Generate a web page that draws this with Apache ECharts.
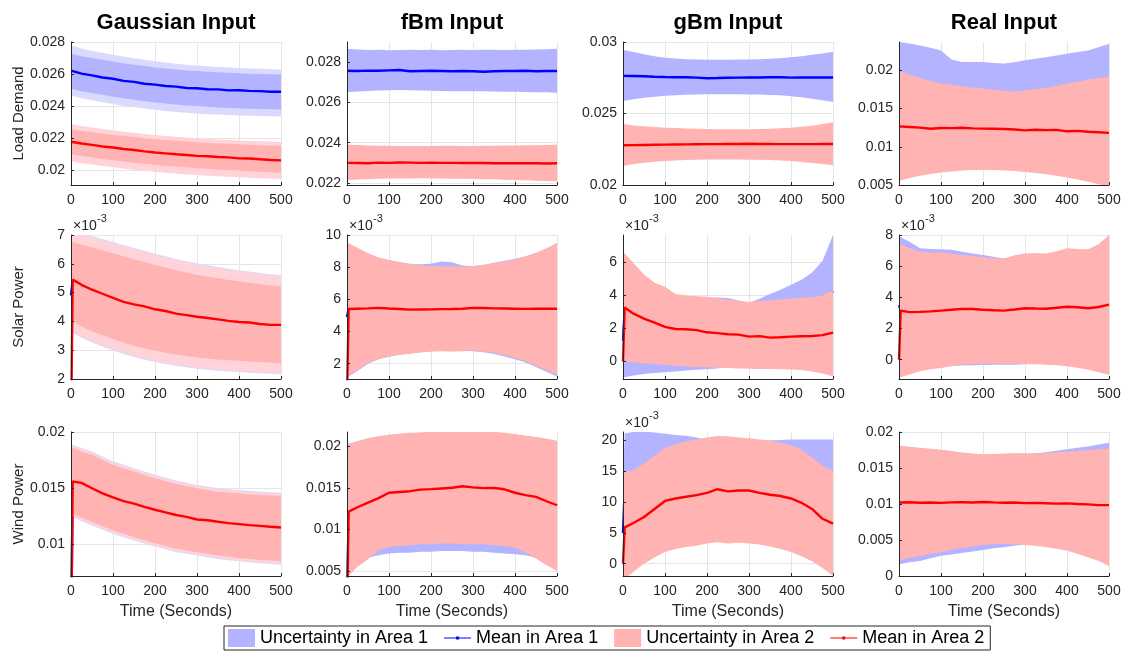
<!DOCTYPE html>
<html><head><meta charset="utf-8">
<script src="https://cdn.jsdelivr.net/npm/echarts@6/dist/echarts.min.js"></script>
<style>html,body{margin:0;padding:0;background:#fff}#c{width:1126px;height:655px}</style>
</head><body><div id="c"></div>
<script>
// ---------------- DATA ----------------
// time points (seconds)
const T = [0,4,25,50,75,100,125,150,175,200,225,250,275,300,325,350,375,400,425,450,475,500];
const xTicks = [0,100,200,300,400,500];
const colTitles = ['Gaussian Input','fBm Input','gBm Input','Real Input'];
const rowTitles = ['Load Demand','Solar Power','Wind Power'];
const xName = 'Time (Seconds)';
const legendNames = ['Uncertainty in Area 1','Mean in Area 1','Uncertainty in Area 2','Mean in Area 2'];

// Load demand - Gaussian
const loadG_ticks = [0.02,0.022,0.024,0.026,0.028];
const loadG_mean1 = [0.02622,0.02618,0.02603,0.02592,0.02579,0.02571,0.02558,0.02552,0.02540,0.02535,0.02526,0.02522,0.02514,0.02512,0.02506,0.02505,0.02499,0.02500,0.02496,0.02494,0.02490,0.02490];
const loadG_up1 = [0.02727,0.02725,0.02712,0.02700,0.02689,0.02678,0.02668,0.02659,0.02650,0.02642,0.02635,0.02629,0.02623,0.02619,0.02615,0.02611,0.02608,0.02606,0.02603,0.02601,0.02599,0.02598];
const loadG_lo1 = [0.02510,0.02508,0.02494,0.02482,0.02471,0.02460,0.02450,0.02441,0.02432,0.02424,0.02417,0.02411,0.02405,0.02401,0.02397,0.02393,0.02390,0.02388,0.02385,0.02383,0.02381,0.02380];
const loadG_up1o = [0.02780,0.02776,0.02760,0.02746,0.02733,0.02721,0.02709,0.02699,0.02689,0.02680,0.02672,0.02665,0.02659,0.02654,0.02649,0.02645,0.02641,0.02638,0.02635,0.02633,0.02631,0.02629];
const loadG_lo1o = [0.02467,0.02464,0.02450,0.02437,0.02425,0.02414,0.02404,0.02395,0.02386,0.02378,0.02371,0.02365,0.02359,0.02355,0.02351,0.02348,0.02345,0.02343,0.02341,0.02339,0.02338,0.02337];
const loadG_mean2 = [0.02179,0.02177,0.02168,0.02160,0.02150,0.02143,0.02134,0.02128,0.02119,0.02112,0.02107,0.02101,0.02097,0.02091,0.02089,0.02084,0.02082,0.02076,0.02075,0.02070,0.02066,0.02063];
const loadG_up2 = [0.02258,0.02256,0.02246,0.02238,0.02230,0.02222,0.02215,0.02208,0.02201,0.02195,0.02190,0.02185,0.02180,0.02176,0.02172,0.02169,0.02166,0.02163,0.02160,0.02158,0.02156,0.02154];
const loadG_lo2 = [0.02102,0.02100,0.02090,0.02081,0.02072,0.02064,0.02056,0.02049,0.02042,0.02036,0.02030,0.02025,0.02020,0.02015,0.02011,0.02007,0.02003,0.02000,0.01996,0.01993,0.01990,0.01987];
const loadG_up2o = [0.02290,0.02288,0.02277,0.02268,0.02259,0.02250,0.02242,0.02235,0.02228,0.02221,0.02215,0.02210,0.02205,0.02200,0.02196,0.02193,0.02190,0.02187,0.02184,0.02182,0.02180,0.02178];
const loadG_lo2o = [0.02058,0.02056,0.02046,0.02037,0.02028,0.02020,0.02012,0.02005,0.01998,0.01992,0.01986,0.01981,0.01976,0.01972,0.01968,0.01964,0.01961,0.01958,0.01955,0.01952,0.01950,0.01948];

// Load demand - fBm
const loadF_ticks = [0.022,0.024,0.026,0.028];
const loadF_mean1 = [0.02757,0.02757,0.02756,0.02758,0.02757,0.02759,0.02761,0.02755,0.02756,0.02757,0.02756,0.02755,0.02756,0.02755,0.02752,0.02755,0.02756,0.02756,0.02757,0.02755,0.02756,0.02756];
const loadF_up1 = [0.02862,0.02865,0.02863,0.02860,0.02861,0.02859,0.02860,0.02862,0.02860,0.02861,0.02859,0.02860,0.02861,0.02860,0.02862,0.02861,0.02860,0.02862,0.02861,0.02863,0.02864,0.02866];
const loadF_lo1 = [0.02650,0.02652,0.02654,0.02657,0.02659,0.02660,0.02662,0.02660,0.02659,0.02658,0.02657,0.02656,0.02656,0.02655,0.02655,0.02654,0.02653,0.02653,0.02652,0.02651,0.02650,0.02648];
const loadF_mean2 = [0.02300,0.02300,0.02299,0.02298,0.02301,0.02300,0.02302,0.02301,0.02300,0.02301,0.02300,0.02300,0.02299,0.02300,0.02299,0.02298,0.02298,0.02298,0.02298,0.02298,0.02297,0.02298];
const loadF_up2 = [0.02385,0.02390,0.02388,0.02386,0.02385,0.02385,0.02384,0.02384,0.02384,0.02384,0.02385,0.02385,0.02384,0.02384,0.02385,0.02385,0.02386,0.02386,0.02387,0.02387,0.02388,0.02390];
const loadF_lo2 = [0.02215,0.02215,0.02217,0.02219,0.02221,0.02222,0.02222,0.02222,0.02223,0.02222,0.02222,0.02221,0.02221,0.02220,0.02219,0.02218,0.02216,0.02215,0.02213,0.02211,0.02210,0.02208];

// Load demand - gBm
const loadB_ticks = [0.02,0.025,0.03];
const loadB_mean1 = [0.02763,0.02763,0.02762,0.02760,0.02757,0.02755,0.02754,0.02753,0.02751,0.02747,0.02748,0.02750,0.02751,0.02752,0.02752,0.02753,0.02753,0.02751,0.02752,0.02752,0.02752,0.02752];
const loadB_up1 = [0.02943,0.02942,0.02930,0.02915,0.02900,0.02890,0.02884,0.02880,0.02878,0.02876,0.02876,0.02876,0.02877,0.02877,0.02879,0.02882,0.02887,0.02893,0.02900,0.02910,0.02920,0.02931];
const loadB_lo1 = [0.02588,0.02589,0.02600,0.02610,0.02618,0.02624,0.02628,0.02631,0.02633,0.02634,0.02634,0.02634,0.02634,0.02633,0.02632,0.02630,0.02627,0.02621,0.02613,0.02603,0.02593,0.02581];
const loadB_mean2 = [0.02278,0.02278,0.02279,0.02280,0.02281,0.02282,0.02283,0.02284,0.02285,0.02286,0.02286,0.02287,0.02287,0.02288,0.02287,0.02287,0.02286,0.02286,0.02286,0.02286,0.02287,0.02287];
const loadB_up2 = [0.02425,0.02424,0.02416,0.02410,0.02405,0.02401,0.02398,0.02395,0.02393,0.02391,0.02390,0.02390,0.02390,0.02390,0.02391,0.02393,0.02396,0.02401,0.02407,0.02415,0.02426,0.02439];
const loadB_lo2 = [0.02134,0.02135,0.02146,0.02155,0.02162,0.02167,0.02171,0.02174,0.02176,0.02178,0.02178,0.02178,0.02178,0.02177,0.02176,0.02174,0.02171,0.02167,0.02161,0.02153,0.02146,0.02138];

// Load demand - Real
const loadR_ticks = [0.005,0.01,0.015,0.02];
const loadR_mean1 = [0.01508,0.01505,0.01500,0.01495,0.01490,0.01487,0.01485,0.01483,0.01480,0.01478,0.01475,0.01472,0.01470,0.01468,0.01465,0.01462,0.01460,0.01457,0.01455,0.01452,0.01450,0.01447];
const loadR_up1 = [0.02370,0.02368,0.02350,0.02323,0.02295,0.02259,0.02140,0.02107,0.02110,0.02110,0.02095,0.02090,0.02105,0.02130,0.02150,0.02170,0.02195,0.02216,0.02240,0.02260,0.02300,0.02345];
const loadR_lo1 = [0.00650,0.00650,0.00660,0.00670,0.00690,0.00720,0.00830,0.00860,0.00850,0.00850,0.00855,0.00855,0.00835,0.00805,0.00780,0.00755,0.00725,0.00700,0.00670,0.00645,0.00600,0.00550];
const loadR_mean2 = [0.01266,0.01265,0.01258,0.01250,0.01236,0.01246,0.01244,0.01248,0.01240,0.01237,0.01235,0.01232,0.01225,0.01215,0.01222,0.01218,0.01221,0.01202,0.01208,0.01196,0.01190,0.01181];
const loadR_up2 = [0.01990,0.01985,0.01945,0.01900,0.01860,0.01827,0.01810,0.01792,0.01775,0.01762,0.01750,0.01731,0.01718,0.01740,0.01752,0.01770,0.01795,0.01827,0.01850,0.01880,0.01900,0.01920];
const loadR_lo2 = [0.00555,0.00560,0.00590,0.00620,0.00645,0.00664,0.00678,0.00690,0.00695,0.00697,0.00697,0.00690,0.00682,0.00670,0.00658,0.00642,0.00622,0.00599,0.00572,0.00542,0.00510,0.00470];

// Solar power (values in units of 1e-3) - Gaussian
const solarG_ticks = [2,3,4,5,6,7];
const solarG_mean1 = [4.90,5.42,5.25,5.08,4.95,4.80,4.69,4.58,4.48,4.40,4.33,4.26,4.20,4.15,4.10,4.06,4.02,3.99,3.96,3.94,3.93,3.95];
const solarG_up1 = [7.16,7.15,7.05,6.96,6.86,6.76,6.65,6.55,6.45,6.35,6.26,6.17,6.09,6.01,5.95,5.89,5.83,5.78,5.73,5.68,5.64,5.60];
const solarG_lo1 = [3.62,3.61,3.43,3.27,3.13,2.99,2.87,2.76,2.67,2.59,2.52,2.46,2.41,2.36,2.32,2.29,2.26,2.24,2.22,2.20,2.18,2.16];
const solarG_mean2 = [0,5.45,5.27,5.10,4.96,4.82,4.68,4.59,4.52,4.42,4.36,4.27,4.22,4.16,4.12,4.07,4.02,3.98,3.96,3.91,3.88,3.88];
const solarG_up2 = [6.77,6.76,6.66,6.57,6.47,6.37,6.26,6.16,6.06,5.96,5.87,5.78,5.70,5.62,5.56,5.50,5.44,5.39,5.34,5.29,5.25,5.21];
const solarG_lo2 = [4.01,4.00,3.82,3.66,3.52,3.38,3.26,3.15,3.06,2.98,2.91,2.85,2.80,2.75,2.71,2.68,2.65,2.63,2.61,2.59,2.57,2.55];
const solarG_up2o = [7.12,7.11,7.01,6.92,6.82,6.72,6.61,6.51,6.41,6.31,6.22,6.13,6.05,5.97,5.91,5.85,5.79,5.74,5.69,5.64,5.60,5.56];
const solarG_lo2o = [3.66,3.65,3.47,3.31,3.17,3.03,2.91,2.80,2.71,2.63,2.56,2.50,2.45,2.40,2.36,2.33,2.30,2.28,2.26,2.24,2.22,2.20];

// Solar power (1e-3) - fBm
const solarF_ticks = [2,4,6,8,10];
const solarF_mean1 = [4.90,5.42,5.43,5.44,5.45,5.43,5.41,5.38,5.38,5.39,5.40,5.41,5.42,5.45,5.45,5.44,5.43,5.42,5.42,5.42,5.43,5.43];
const solarF_up1 = [9.50,9.45,9.18,8.85,8.58,8.43,8.30,8.22,8.18,8.22,8.36,8.30,8.10,8.06,8.13,8.28,8.40,8.52,8.66,8.86,9.15,9.50];
const solarF_lo1 = [1.10,1.20,1.55,2.00,2.28,2.44,2.56,2.64,2.72,2.78,2.79,2.78,2.80,2.78,2.72,2.60,2.45,2.28,2.08,1.80,1.50,1.20];
const solarF_mean2 = [0,5.40,5.42,5.44,5.47,5.43,5.40,5.36,5.37,5.38,5.39,5.40,5.42,5.47,5.46,5.44,5.43,5.42,5.41,5.42,5.42,5.42];
const solarF_up2 = [9.55,9.48,9.20,8.87,8.60,8.45,8.32,8.20,8.13,8.08,8.05,8.04,8.04,8.08,8.15,8.25,8.36,8.50,8.68,8.90,9.18,9.48];
const solarF_lo2 = [1.22,1.30,1.60,2.04,2.30,2.45,2.55,2.62,2.70,2.76,2.77,2.76,2.78,2.80,2.76,2.66,2.52,2.35,2.15,1.88,1.60,1.32];

// Solar power (1e-3) - gBm
const solarB_ticks = [0,2,4,6];
const solarB_mean1 = [1.27,3.10,2.80,2.55,2.30,2.10,1.98,1.92,1.85,1.78,1.75,1.75,1.80,1.85,1.95,2.10,2.30,2.55,2.85,3.20,3.70,4.26];
const solarB_up1 = [6.50,6.40,5.85,5.15,4.70,4.45,4.05,3.95,3.90,3.88,3.88,3.85,3.70,3.55,3.80,4.10,4.35,4.65,4.95,5.40,6.10,7.67];
const solarB_lo1 = [-0.90,-0.95,-0.85,-0.75,-0.70,-0.65,-0.60,-0.55,-0.50,-0.47,-0.43,-0.30,-0.32,-0.34,-0.35,-0.36,-0.37,-0.38,-0.42,-0.50,-0.62,-0.80];
const solarB_mean2 = [0,3.27,2.90,2.60,2.36,2.10,1.97,1.96,1.90,1.77,1.72,1.65,1.63,1.51,1.54,1.45,1.47,1.51,1.53,1.55,1.60,1.75];
const solarB_up2 = [6.67,6.55,5.97,5.27,4.77,4.53,4.10,4.00,3.95,3.92,3.85,3.75,3.68,3.61,3.65,3.70,3.76,3.82,3.86,3.90,4.00,4.33];
const solarB_lo2 = [0.10,0.05,-0.05,-0.10,-0.15,-0.20,-0.25,-0.30,-0.33,-0.35,-0.38,-0.40,-0.42,-0.44,-0.45,-0.46,-0.47,-0.48,-0.52,-0.60,-0.72,-0.90];

// Solar power (1e-3) - Real
const solarR_ticks = [0,2,4,6,8];
const solarR_mean1 = [3.50,3.20,3.10,3.10,3.12,3.15,3.20,3.25,3.25,3.21,3.18,3.16,3.22,3.28,3.28,3.28,3.32,3.38,3.36,3.32,3.38,3.50];
const solarR_up1 = [8.00,7.85,7.57,7.15,7.10,7.08,7.05,6.93,6.82,6.72,6.60,6.50,6.60,6.72,6.75,6.72,6.85,7.05,7.00,6.98,7.30,7.90];
const solarR_lo1 = [-1.10,-1.05,-0.90,-0.70,-0.57,-0.48,-0.40,-0.38,-0.36,-0.34,-0.33,-0.33,-0.33,-0.30,-0.24,-0.27,-0.31,-0.37,-0.47,-0.59,-0.75,-0.90];
const solarR_mean2 = [0,3.15,3.05,3.07,3.10,3.15,3.20,3.26,3.25,3.20,3.17,3.15,3.22,3.30,3.28,3.27,3.33,3.40,3.36,3.30,3.38,3.53];
const solarR_up2 = [7.47,7.40,7.15,6.93,6.90,6.87,6.80,6.72,6.65,6.57,6.52,6.50,6.70,6.82,6.85,6.82,6.95,7.15,7.10,7.08,7.40,8.00];
const solarR_lo2 = [-1.17,-1.12,-0.95,-0.75,-0.62,-0.53,-0.42,-0.32,-0.28,-0.26,-0.26,-0.27,-0.27,-0.27,-0.29,-0.32,-0.36,-0.42,-0.52,-0.64,-0.80,-0.96];

// Wind power - Gaussian
const windG_ticks = [0.01,0.015,0.02];
const windG_mean1 = [0,0.01555,0.01545,0.01498,0.01452,0.01415,0.01383,0.01360,0.01333,0.01308,0.01284,0.01262,0.01243,0.01224,0.01213,0.01201,0.01190,0.01180,0.01170,0.01163,0.01156,0.01150];
const windG_up1 = [0.01887,0.01885,0.01857,0.01827,0.01782,0.01738,0.01708,0.01678,0.01648,0.01619,0.01593,0.01568,0.01549,0.01530,0.01515,0.01500,0.01492,0.01485,0.01477,0.01470,0.01465,0.01461];
const windG_lo1 = [0.01244,0.01242,0.01207,0.01170,0.01132,0.01095,0.01065,0.01035,0.01008,0.00982,0.00957,0.00932,0.00917,0.00902,0.00887,0.00872,0.00861,0.00851,0.00842,0.00833,0.00827,0.00821];
const windG_mean2 = [0,0.01560,0.01548,0.01500,0.01455,0.01418,0.01385,0.01363,0.01335,0.01309,0.01285,0.01262,0.01245,0.01222,0.01215,0.01202,0.01190,0.01181,0.01172,0.01166,0.01158,0.01151];
const windG_up2 = [0.01857,0.01855,0.01827,0.01797,0.01752,0.01708,0.01678,0.01648,0.01618,0.01589,0.01563,0.01538,0.01519,0.01500,0.01485,0.01470,0.01462,0.01455,0.01447,0.01440,0.01435,0.01431];
const windG_lo2 = [0.01274,0.01272,0.01237,0.01200,0.01162,0.01125,0.01095,0.01065,0.01038,0.01012,0.00987,0.00962,0.00947,0.00932,0.00917,0.00902,0.00891,0.00881,0.00872,0.00863,0.00857,0.00851];
const windG_up2o = [0.01877,0.01875,0.01847,0.01817,0.01772,0.01728,0.01698,0.01668,0.01638,0.01609,0.01583,0.01558,0.01539,0.01520,0.01505,0.01490,0.01482,0.01475,0.01467,0.01460,0.01455,0.01451];
const windG_lo2o = [0.01254,0.01252,0.01217,0.01180,0.01142,0.01105,0.01075,0.01045,0.01018,0.00992,0.00967,0.00942,0.00927,0.00912,0.00897,0.00882,0.00871,0.00861,0.00852,0.00843,0.00837,0.00831];

// Wind power - fBm
const windF_ticks = [0.005,0.01,0.015,0.02];
const windF_mean1 = [0,0.01210,0.01262,0.01320,0.01372,0.01435,0.01448,0.01452,0.01468,0.01480,0.01488,0.01497,0.01510,0.01505,0.01498,0.01490,0.01475,0.01440,0.01412,0.01388,0.01335,0.01290];
const windF_up1 = [0.02015,0.02030,0.02058,0.02092,0.02116,0.02132,0.02146,0.02155,0.02160,0.02165,0.02170,0.02174,0.02178,0.02180,0.02176,0.02168,0.02156,0.02140,0.02121,0.02106,0.02086,0.02060];
const windF_lo1 = [0.0045,0.0047,0.0058,0.0066,0.0069,0.0071,0.0072,0.0072,0.0073,0.0073,0.0074,0.0074,0.0074,0.0073,0.0073,0.0072,0.0071,0.0070,0.0069,0.0066,0.0062,0.0058];
const windF_mean2 = [0,0.01213,0.01266,0.01322,0.01375,0.01440,0.01450,0.01459,0.01478,0.01484,0.01492,0.01500,0.01518,0.01505,0.01496,0.01498,0.01482,0.01440,0.01412,0.01391,0.01338,0.01290];
const windF_up2 = [0.02010,0.02030,0.02060,0.02096,0.02120,0.02136,0.02150,0.02160,0.02165,0.02169,0.02175,0.02178,0.02182,0.02184,0.02180,0.02172,0.02160,0.02144,0.02125,0.02110,0.02090,0.02064];
const windF_lo2 = [0.0040,0.0044,0.0055,0.0064,0.0075,0.0079,0.0080,0.0081,0.0082,0.0082,0.0083,0.0083,0.0082,0.0082,0.0082,0.0081,0.0080,0.0078,0.0072,0.0065,0.0057,0.0050];

// Wind power (1e-3) - gBm
const windB_ticks = [0,5,10,15,20];
const windB_mean1 = [5.0,12.0,12.3,12.4,12.4,12.3,12.2,12.1,12.0,11.9,11.8,11.7,11.7,11.6,11.6,11.5,11.5,11.4,11.4,11.3,11.3,11.3];
const windB_up1 = [13.0,21.2,21.4,21.5,21.3,21.1,20.9,20.8,20.5,20.2,20.0,19.9,19.9,19.9,19.9,20.0,20.1,20.2,20.2,20.2,20.2,20.2];
const windB_lo1 = [-2.5,-2.0,-0.8,0.5,1.5,2.4,2.9,3.2,3.4,3.8,4.0,3.8,3.9,3.8,3.6,3.3,2.9,2.4,1.7,0.9,-0.2,-1.5];
const windB_mean2 = [0,5.90,6.62,7.60,8.90,10.20,10.60,10.87,11.14,11.52,12.10,11.75,11.90,11.90,11.50,11.20,11.00,10.60,9.90,8.90,7.30,6.50];
const windB_up2 = [14.94,15.0,15.2,16.3,17.6,18.8,19.4,19.9,20.2,20.5,20.77,20.7,20.5,20.4,20.2,20.0,19.6,19.2,18.5,17.3,15.9,15.1];
const windB_lo2 = [-3.0,-2.5,-1.3,0.0,1.0,1.9,2.4,2.7,2.9,3.3,3.5,3.3,3.4,3.3,3.1,2.8,2.4,1.9,1.2,0.4,-0.7,-2.0];

// Wind power - Real
const windR_ticks = [0,0.005,0.01,0.015,0.02];
const windR_mean1 = [0.01030,0.01028,0.01028,0.01025,0.01025,0.01022,0.01025,0.01028,0.01025,0.01030,0.01028,0.01025,0.01025,0.01020,0.01022,0.01020,0.01018,0.01020,0.01020,0.01025,0.01035,0.01050];
const windR_up1 = [0.01800,0.01800,0.01790,0.01775,0.01762,0.01750,0.01730,0.01710,0.01695,0.01685,0.01690,0.01695,0.01700,0.01700,0.01705,0.01720,0.01740,0.01760,0.01780,0.01800,0.01825,0.01850];
const windR_lo1 = [0.00160,0.00165,0.00190,0.00210,0.00245,0.00280,0.00300,0.00320,0.00340,0.00360,0.00385,0.00400,0.00420,0.00440,0.00430,0.00410,0.00390,0.00360,0.00320,0.00270,0.00220,0.00150];
const windR_mean2 = [0.01020,0.01022,0.01025,0.01018,0.01020,0.01015,0.01022,0.01025,0.01020,0.01028,0.01022,0.01018,0.01020,0.01012,0.01015,0.01010,0.01005,0.01008,0.01000,0.00995,0.00985,0.00985];
const windR_up2 = [0.01810,0.01808,0.01795,0.01780,0.01768,0.01755,0.01735,0.01715,0.01700,0.01690,0.01695,0.01700,0.01705,0.01700,0.01700,0.01705,0.01715,0.01725,0.01735,0.01750,0.01760,0.01770];
const windR_lo2 = [0.00220,0.00225,0.00250,0.00280,0.00305,0.00330,0.00360,0.00390,0.00410,0.00430,0.00440,0.00445,0.00440,0.00430,0.00420,0.00400,0.00380,0.00350,0.00310,0.00260,0.00210,0.00140];

// ---------------- LAYOUT / STYLE ----------------
const FONT = "'Liberation Sans', Arial, Helvetica, sans-serif";
const colX = [71, 347, 623, 899];
const colW = 210;
const rowY = [[42, 143], [235, 144], [432, 144]];
const COLORS = {band1:'#b3b3ff', fuzz1:'#dadaff', band2:'#ffb3b3', fuzz2:'#ffd3d8', mean1:'#0000ff', mean2:'#ff0000'};
// legend icon for mean lines: thin line with a small point marker
const LINE_ICON = 'path://M0,8.5H27V9.5H0Z M12,7.5H15V10.5H12Z M13,0H13.01V0.01H13Z M13,17.99H13.01V18H13Z';

const panels = [
  {r:0,c:0,min:0.0191,max:0.028,ticks:loadG_ticks,
   b1:[[loadG_lo1o,loadG_up1o,'fuzz1'],[loadG_lo1,loadG_up1,'band1']], m1:loadG_mean1,
   b2:[[loadG_lo2o,loadG_up2o,'fuzz2'],[loadG_lo2,loadG_up2,'band2']], m2:loadG_mean2},
  {r:0,c:1,min:0.0219,max:0.029,ticks:loadF_ticks,
   b1:[[loadF_lo1,loadF_up1,'band1']], m1:loadF_mean1, b2:[[loadF_lo2,loadF_up2,'band2']], m2:loadF_mean2},
  {r:0,c:2,min:0.02,max:0.03,ticks:loadB_ticks,
   b1:[[loadB_lo1,loadB_up1,'band1']], m1:loadB_mean1, b2:[[loadB_lo2,loadB_up2,'band2']], m2:loadB_mean2},
  {r:0,c:3,min:0.005,max:0.0237,ticks:loadR_ticks,
   b1:[[loadR_lo1,loadR_up1,'band1']], m1:loadR_mean1, b2:[[loadR_lo2,loadR_up2,'band2']], m2:loadR_mean2},
  {r:1,c:0,min:2,max:7,ticks:solarG_ticks,exp:true,
   b1:[[solarG_lo1,solarG_up1,'fuzz1']], m1:solarG_mean1,
   b2:[[solarG_lo2o,solarG_up2o,'fuzz2'],[solarG_lo2,solarG_up2,'band2']], m2:solarG_mean2},
  {r:1,c:1,min:1.05,max:10,ticks:solarF_ticks,exp:true,
   b1:[[solarF_lo1,solarF_up1,'band1']], m1:solarF_mean1, b2:[[solarF_lo2,solarF_up2,'band2']], m2:solarF_mean2},
  {r:1,c:2,min:-1.06,max:7.67,ticks:solarB_ticks,exp:true,
   b1:[[solarB_lo1,solarB_up1,'band1']], m1:solarB_mean1, b2:[[solarB_lo2,solarB_up2,'band2']], m2:solarB_mean2},
  {r:1,c:3,min:-1.24,max:8,ticks:solarR_ticks,exp:true,
   b1:[[solarR_lo1,solarR_up1,'band1']], m1:solarR_mean1, b2:[[solarR_lo2,solarR_up2,'band2']], m2:solarR_mean2},
  {r:2,c:0,min:0.0072,max:0.02,ticks:windG_ticks,
   b1:[[windG_lo1,windG_up1,'fuzz1']], m1:windG_mean1,
   b2:[[windG_lo2o,windG_up2o,'fuzz2'],[windG_lo2,windG_up2,'band2']], m2:windG_mean2},
  {r:2,c:1,min:0.0044,max:0.0217,ticks:windF_ticks,
   b1:[[windF_lo1,windF_up1,'band1']], m1:windF_mean1, b2:[[windF_lo2,windF_up2,'band2']], m2:windF_mean2},
  {r:2,c:2,min:-2.0,max:21.4,ticks:windB_ticks,exp:true,
   b1:[[windB_lo1,windB_up1,'band1']], m1:windB_mean1, b2:[[windB_lo2,windB_up2,'band2']], m2:windB_mean2},
  {r:2,c:3,min:0,max:0.02,ticks:windR_ticks,
   b1:[[windR_lo1,windR_up1,'band1']], m1:windR_mean1, b2:[[windR_lo2,windR_up2,'band2']], m2:windR_mean2}
];

function fmt(v){ return String(parseFloat(Number(v).toFixed(6))); }

function bandRender(lo, up, color){
  return function(params, api){
    if (params.dataIndex !== 0) return null;
    const pts = [];
    for (let i = 0; i < T.length; i++) pts.push(api.coord([T[i], up[i]]));
    for (let i = T.length - 1; i >= 0; i--) pts.push(api.coord([T[i], lo[i]]));
    const cs = params.coordSys;
    return {type:'polygon', shape:{points:pts}, style:{fill:color, stroke:null},
            clipPath:{type:'rect', shape:{x:cs.x, y:cs.y, width:cs.width, height:cs.height}}};
  };
}

const grids = [], xAxes = [], yAxes = [], series = [], graphics = [];
const gridLine = {show:true, lineStyle:{color:'#e5e5e5', width:1}};
const axColor = '#262626';

panels.forEach(function(p, k){
  grids.push({left:colX[p.c], top:rowY[p.r][0], width:colW, height:rowY[p.r][1]});
  // base axes (grid lines beneath the data)
  xAxes.push({gridIndex:k, type:'value', min:0, max:500, interval:100, z:0,
    axisLine:{show:false}, axisTick:{show:false, customValues:xTicks}, axisLabel:{show:false, customValues:xTicks}, splitLine:gridLine});
  yAxes.push({gridIndex:k, type:'value', min:p.min, max:p.max, z:0,
    axisLine:{show:false}, axisTick:{show:false, customValues:p.ticks}, axisLabel:{show:false, customValues:p.ticks}, splitLine:gridLine});
  // overlay axes (lines, ticks, labels above the data)
  xAxes.push({gridIndex:k, type:'value', min:0, max:500, interval:100, z:10, position:'bottom',
    axisLine:{show:true, onZero:false, lineStyle:{color:axColor, width:1}},
    axisTick:{show:true, inside:true, length:3, customValues:xTicks, lineStyle:{color:axColor}},
    axisLabel:{show:true, customValues:xTicks, color:axColor, fontSize:14, fontFamily:FONT, margin:8, formatter:fmt},
    splitLine:{show:false}});
  yAxes.push({gridIndex:k, type:'value', min:p.min, max:p.max, z:10, position:'left',
    axisLine:{show:true, onZero:false, lineStyle:{color:axColor, width:1}},
    axisTick:{show:true, inside:true, length:3, customValues:p.ticks, lineStyle:{color:axColor}},
    axisLabel:{show:true, customValues:p.ticks, color:axColor, fontSize:14, fontFamily:FONT, margin:6, formatter:fmt},
    splitLine:{show:false}});

  let z = 1;
  function addBands(list){
    list.forEach(function(b){
      const kind = b[2];
      const s = {type:'custom', xAxisIndex:2*k, yAxisIndex:2*k, z:z++, silent:true, clip:true,
        renderItem: bandRender(b[0], b[1], COLORS[kind]),
        itemStyle:{color:COLORS[kind]},
        encode:{x:0, y:[1,2]},
        data: T.map(function(t,i){ return [t, b[0][i], b[1][i]]; })};
      if (kind === 'band1') s.name = legendNames[0];
      if (kind === 'band2') s.name = legendNames[2];
      series.push(s);
    });
  }
  function addMean(m, name, color){
    series.push({type:'line', name:name, xAxisIndex:2*k, yAxisIndex:2*k, z:z++, silent:true,
      showSymbol:false, symbol:'circle', symbolSize:4, clip:true,
      lineStyle:{color:color, width:2.4}, itemStyle:{color:color},
      data: T.map(function(t,i){ return [t, m[i]]; })});
  }
  addBands(p.b1); addMean(p.m1, legendNames[1], COLORS.mean1);
  addBands(p.b2); addMean(p.m2, legendNames[3], COLORS.mean2);

  if (p.exp) {
    const x0 = colX[p.c] + 2, y0 = rowY[p.r][0];
    graphics.push({type:'text', x:x0, y:y0 - 16, style:{text:'\u00d710', font:'14px ' + FONT, fill:axColor}});
    graphics.push({type:'text', x:x0 + 24, y:y0 - 22, style:{text:'-3', font:'11px ' + FONT, fill:axColor}});
  }
});

colTitles.forEach(function(t, c){
  graphics.push({type:'text', x:colX[c] + colW/2, y:23, style:{text:t, font:'bold 22px ' + FONT, fill:'#000', align:'center', verticalAlign:'middle'}});
  graphics.push({type:'text', x:colX[c] + colW/2, y:612, style:{text:xName, font:'16px ' + FONT, fill:axColor, align:'center', verticalAlign:'middle'}});
});
rowTitles.forEach(function(t, r){
  graphics.push({type:'text', x:19, y:rowY[r][0] + rowY[r][1]/2, rotation:Math.PI/2,
    style:{text:t, font:'15px ' + FONT, fill:axColor, align:'center', verticalAlign:'middle'}});
});

const chart = echarts.init(document.getElementById('c'), null, {renderer:'canvas'});
chart.setOption({
  animation:false,
  backgroundColor:'#fff',
  grid:grids, xAxis:xAxes, yAxis:yAxes, series:series,
  legend:{left:224, top:626, orient:'horizontal', selectedMode:false,
    padding:[3,6,3,4], itemGap:16, itemWidth:27, itemHeight:18,
    borderColor:axColor, borderWidth:1, backgroundColor:'#fff',
    textStyle:{fontSize:18, color:'#000', fontFamily:FONT},
    data:[{name:legendNames[0], icon:'rect'}, {name:legendNames[1], icon:LINE_ICON},
          {name:legendNames[2], icon:'rect'}, {name:legendNames[3], icon:LINE_ICON}]},
  graphic:graphics
});
</script></body></html>
